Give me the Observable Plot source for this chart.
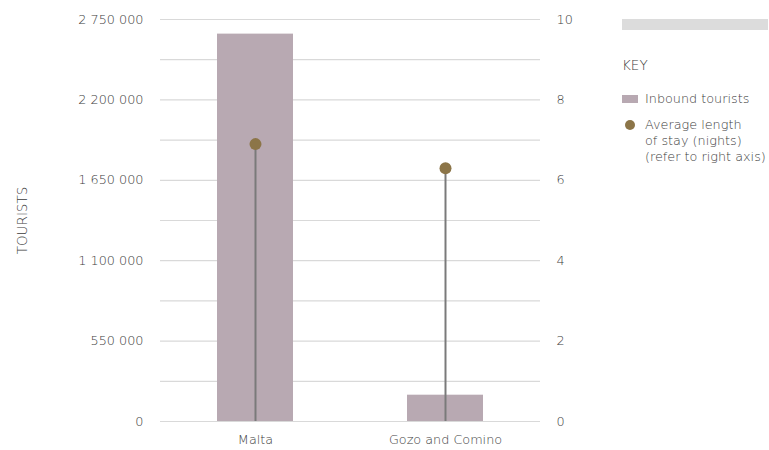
<!DOCTYPE html>
<html>
<head>
<meta charset="utf-8">
<script src="https://cdn.jsdelivr.net/npm/d3@7"></script>
<script src="https://cdn.jsdelivr.net/npm/@observablehq/plot@0.6"></script>
<style>
  html, body { margin: 0; padding: 0; background: #fff; }
  #wrap { position: relative; width: 769px; height: 450px; font-family: "DejaVu Sans", sans-serif; font-weight: 200; color: #3c3c3c; }
  #chart { position: absolute; left: 0; top: 0; }
  #chart svg text { font-weight: 200; }
  #legend { position: absolute; left: 622px; top: 19px; width: 147px; font-size: 12.8px; color: #3c3c3c; }
  .topbar { width: 146px; height: 11px; background: #dcdcdc; }
  .key { margin-top: 26px; font-size: 13.5px; line-height: 18px; }
  .item { position: relative; padding-left: 23px; line-height: 16px; white-space: nowrap; }
  .sw { position: absolute; left: 0; top: 4px; width: 16px; height: 8px; background: #b8a9b2; }
  .dot { position: absolute; left: 3px; top: 3px; width: 10px; height: 10px; border-radius: 50%; background: #8c7548; }
</style>
</head>
<body>
<div id="wrap">
  <div id="chart"></div>
  <div id="legend">
    <div class="topbar"></div>
    <div class="key">KEY</div>
    <div class="item" style="margin-top:17px"><span class="sw"></span>Inbound tourists</div>
    <div class="item" style="margin-top:10px"><span class="dot"></span>Average length<br>of stay (nights)<br>(refer to right axis)</div>
  </div>
</div>
<script>
const regions = ["Malta", "Gozo and Comino"];
const tourists = [2650000, 180000];
const stayNights = [6.9, 6.3];
const leftTicks = [0, 550000, 1100000, 1650000, 2200000, 2750000];
const rightTicks = [0, 2, 4, 6, 8, 10];
const gridTicks = d3.range(0, 2750001, 275000);
const nightsToTourists = 275000; // right axis 0–10 maps onto left axis 0–2 750 000

const data = regions.map((r, i) => ({region: r, tourists: tourists[i], nights: stayNights[i]}));
const fmt = d => d3.format(",")(d).replace(/,/g, " ");

const chart = Plot.plot({
  width: 769,
  height: 450,
  marginTop: 19,
  marginBottom: 29,
  marginLeft: 160,
  marginRight: 229,
  style: {fontFamily: "'DejaVu Sans', sans-serif", fontSize: "12.8px", color: "#3c3c3c", background: "#fff"},
  x: {domain: regions, paddingInner: 0.6, paddingOuter: 0.3, label: null},
  y: {domain: [0, 2750000], label: null},
  marks: [
    Plot.ruleY(gridTicks, {stroke: "#d9d9d9", strokeWidth: 1.2, strokeOpacity: 1}),
    Plot.barY(data, {x: "region", y: "tourists", fill: "#b8a9b2"}),
    Plot.ruleX(data, {x: "region", y1: 0, y2: d => d.nights * nightsToTourists, stroke: "#7a7a7a", strokeWidth: 2}),
    Plot.dot(data, {x: "region", y: d => d.nights * nightsToTourists, r: 6, fill: "#8c7548", stroke: "none"}),
    Plot.axisX({tickSize: 0, tickPadding: 13.5, fontSize: "12.8px"}),
    Plot.axisY({anchor: "left", ticks: leftTicks, tickFormat: fmt, tickSize: 0, tickPadding: 17, label: null}),
    Plot.axisY({anchor: "right", ticks: rightTicks.map(v => v * nightsToTourists), tickFormat: d => String(Math.round(d / nightsToTourists)), tickSize: 0, tickPadding: 16, label: null}),
    Plot.text(["TOURISTS"], {frameAnchor: "left", textAnchor: "middle", dx: -138, rotate: -90, fontSize: "13.5px", fill: "#3c3c3c"})
  ]
});
document.getElementById("chart").appendChild(chart);
</script>
</body>
</html>
